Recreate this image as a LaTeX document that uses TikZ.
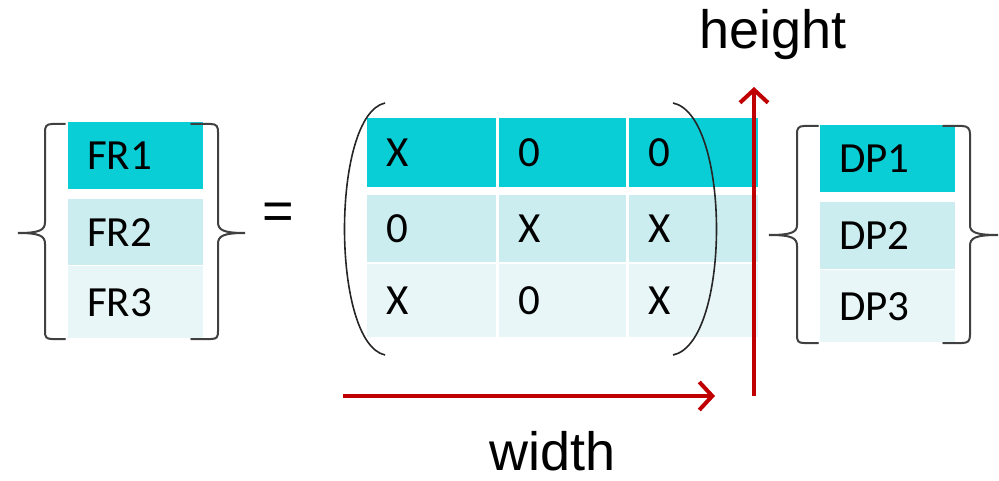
\documentclass[tikz,border=0pt]{standalone}
\usepackage{fontspec}
\setmainfont{Carlito}
\newfontfamily\arialf{Liberation Sans}
\usetikzlibrary{arrows.meta}
\definecolor{cdark}{HTML}{0ACED6}
\definecolor{cmid}{HTML}{CCEDEF}
\definecolor{clight}{HTML}{E8F6F7}
\definecolor{cred}{HTML}{C00000}
\definecolor{cbrace}{HTML}{404040}
\tikzset{
  cell/.style={anchor=north west, inner xsep=19pt, inner ysep=0pt, align=left,
    font=\fontsize{43}{46}\selectfont, text=black},
  ca/.style={cell, text width=91pt},
  cb/.style={cell, text width=89pt},
  cc/.style={cell, text width=91pt},
  cf/.style={cell, text width=97pt},
  brace/.style={draw=cbrace, line width=2pt, line cap=round},
  paren/.style={draw=black!85, line width=1.6pt},
  redarrow/.style={draw=cred, line width=4pt, -{Straight Barb[length=13pt,width=28pt,line width=4pt]}},
  lbl/.style={font=\arialf\fontsize{54}{58}\selectfont, text=black, inner sep=0pt}
}
\begin{document}
\begin{tikzpicture}[x=1pt,y=-1pt]
\useasboundingbox (0,0) rectangle (999,481);
% FR column
\node[cf, fill=cdark, minimum height=67pt] (fr1) at (68,122) {FR1};
\node[cf, fill=cmid, minimum height=66pt] (fr2) at (68,199) {FR2};
\node[cf, fill=clight, minimum height=72pt] (fr3) at (68,266) {FR3};
% DP column
\node[cf, fill=cdark, minimum height=67pt] (dp1) at (820,125) {DP1};
\node[cf, fill=cmid, minimum height=67pt] (dp2) at (820,202) {DP2};
\node[cf, fill=clight, minimum height=72pt] (dp3) at (820,270) {DP3};
% matrix
\node[ca, fill=cdark, minimum height=69pt] (m11) at (367,118) {X};
\node[cb, fill=cdark, minimum height=69pt] (m12) at (499,118) {0};
\node[cc, fill=cdark, minimum height=69pt] (m13) at (629,118) {0};
\node[ca, fill=cmid, minimum height=67pt] (m21) at (367,195) {0};
\node[cb, fill=cmid, minimum height=67pt] (m22) at (499,195) {X};
\node[cc, fill=cmid, minimum height=67pt] (m23) at (629,195) {X};
\node[ca, fill=clight, minimum height=73pt] (m31) at (367,264) {X};
\node[cb, fill=clight, minimum height=73pt] (m32) at (499,264) {0};
\node[cc, fill=clight, minimum height=73pt] (m33) at (629,264) {X};
% braces FR
\draw[brace] (65,124) -- (52,124) .. controls (46,124) and (45,127) .. (45,132) -- (45,222)
  .. controls (45,230) and (40,233) .. (18,233)
  .. controls (40,233) and (45,236) .. (45,244) -- (45,331)
  .. controls (45,337) and (46,339) .. (52,339) -- (65,339);
\draw[brace] (191,124) -- (211,124) .. controls (217,124) and (218,127) .. (218,132) -- (218,222)
  .. controls (218,230) and (223,233) .. (245,233)
  .. controls (223,233) and (218,236) .. (218,244) -- (218,331)
  .. controls (218,337) and (217,339) .. (211,339) -- (191,339);
% braces DP
\draw[brace] (818,126) -- (804,126) .. controls (798,126) and (797,129) .. (797,134) -- (797,225)
  .. controls (797,232) and (792,235) .. (769,235)
  .. controls (792,235) and (797,238) .. (797,246) -- (797,335)
  .. controls (797,341) and (798,343) .. (804,343) -- (818,343);
\draw[brace] (943,126) -- (962,126) .. controls (968,126) and (970,129) .. (970,134) -- (970,225)
  .. controls (970,232) and (975,235) .. (998,235)
  .. controls (975,235) and (970,238) .. (970,246) -- (970,335)
  .. controls (970,341) and (968,343) .. (962,343) -- (943,343);
% parentheses
\draw[paren] (385,103) .. controls (331,115) and (331,343) .. (385,355);
\draw[paren] (673,103) .. controls (731,115) and (731,343) .. (673,355);
% equals
\node[font=\arialf\fontsize{54}{58}\selectfont, inner sep=0pt] (eq) at (278,216) {=};
% arrows
\coordinate (w0) at (343,396);
\coordinate (w1) at (715,396);
\coordinate (h0) at (754,396);
\coordinate (h1) at (754,87);
\draw[redarrow] (w0) -- (w1);
\draw[redarrow] (h0) -- (h1);
\node[lbl] (wl) at (553,451) {width};
\node[lbl] (hl) at (773,35) {height};
\end{tikzpicture}
\end{document}
